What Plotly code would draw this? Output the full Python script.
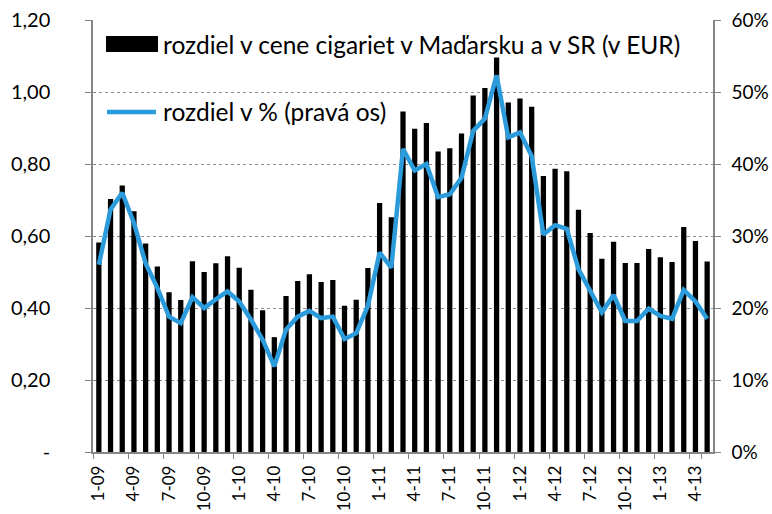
import plotly.graph_objects as go

months = [f"{m}-{y:02d}" for y in range(9, 14) for m in range(1, 13)][:53]

price_diff = [0.582, 0.703, 0.740, 0.669, 0.579, 0.515, 0.444, 0.422, 0.530, 0.500,
              0.524, 0.544, 0.512, 0.451, 0.394, 0.319, 0.433, 0.475, 0.494, 0.472,
              0.478, 0.406, 0.423, 0.511, 0.692, 0.652, 0.946, 0.898, 0.914, 0.835,
              0.844, 0.885, 0.990, 1.011, 1.096, 0.971, 0.982, 0.959, 0.767, 0.787,
              0.780, 0.673, 0.608, 0.537, 0.584, 0.525, 0.525, 0.564, 0.541, 0.528,
              0.625, 0.586, 0.529]

pct_diff = [26.0, 33.7, 36.0, 31.8, 26.2, 22.8, 18.8, 17.9, 21.5, 20.0,
            21.2, 22.3, 20.9, 18.4, 15.6, 11.9, 17.0, 18.8, 19.6, 18.6,
            18.8, 15.7, 16.5, 20.3, 27.7, 25.6, 42.1, 39.1, 40.0, 35.4,
            35.8, 38.1, 44.6, 46.3, 52.3, 43.7, 44.4, 41.1, 30.2, 31.5,
            31.0, 25.4, 22.4, 19.4, 21.8, 18.2, 18.2, 19.9, 18.9, 18.5,
            22.5, 20.9, 18.5]

left_tickvals = [0, 0.2, 0.4, 0.6, 0.8, 1.0, 1.2]
left_ticktext = ["-", "0,20", "0,40", "0,60", "0,80", "1,00", "1,20"]
right_tickvals = [0, 10, 20, 30, 40, 50, 60]
right_ticktext = ["0%", "10%", "20%", "30%", "40%", "50%", "60%"]
x_tickvals = months[::3]

bar_name = "rozdiel v cene cigariet v Maďarsku a v SR (v EUR)"
line_name = "rozdiel v % (pravá os)"

FONT = "Lato"
BLUE = "#2B9BDB"
AXIS = "#868686"

L, R, T, B = 93, 59, 20, 62
PW, PH = 772 - L - R, 514 - T - B

fig = go.Figure()
fig.add_trace(go.Bar(x=months, y=price_diff, name=bar_name, marker_color="black",
                     marker_line_width=0, yaxis="y", showlegend=False))
fig.add_trace(go.Scatter(x=months, y=pct_diff, name=line_name, mode="lines",
                         line=dict(color=BLUE, width=4.5), yaxis="y2", showlegend=False))

fig.update_layout(
    width=772, height=514,
    margin=dict(l=L, r=R, t=T, b=B),
    plot_bgcolor="white", paper_bgcolor="white",
    bargap=0.55,
    font=dict(family=FONT, color="black", size=19),
    xaxis=dict(type="category", tickvals=x_tickvals, tickangle=-90,
               tickson="boundaries", ticks="outside", ticklen=5, tickcolor=AXIS,
               showline=True, linecolor=AXIS, linewidth=1.5, showgrid=False,
               tickfont=dict(size=17), range=[-0.5, 52.5], automargin=False,
               ticklabelstandoff=5),
    yaxis=dict(range=[0, 1.2], tickvals=left_tickvals, ticktext=left_ticktext,
               showline=True, linecolor=AXIS, linewidth=1.5, ticks="outside",
               ticklen=6, tickcolor=AXIS, showgrid=True, gridcolor="#8c8c8c",
               griddash="dot", gridwidth=1, zeroline=False, tickfont=dict(size=20),
               automargin=False, ticklabelstandoff=31),
    yaxis2=dict(range=[0, 60], tickvals=right_tickvals, ticktext=right_ticktext,
                overlaying="y", side="right", showline=True, linecolor=AXIS,
                linewidth=1.5, ticks="outside", ticklen=6, tickcolor=AXIS,
                showgrid=False, zeroline=False, tickfont=dict(size=19),
                automargin=False, ticklabelstandoff=7),
)

# Manual legend (symbols + real text)
fig.add_shape(type="rect", xref="paper", yref="paper",
              x0=(106 - L) / PW, x1=(158 - L) / PW,
              y0=(452 - 52) / PH, y1=(452 - 36) / PH,
              fillcolor="black", line_width=0)
fig.add_shape(type="line", xref="paper", yref="paper",
              x0=(107 - L) / PW, x1=(156 - L) / PW,
              y0=(452 - 112) / PH, y1=(452 - 112) / PH,
              line=dict(color=BLUE, width=4.5))
fig.add_annotation(xref="paper", yref="paper", x=(161 - L) / PW, y=(452 - 44) / PH,
                   text=bar_name, showarrow=False, xanchor="left", yanchor="middle",
                   font=dict(size=24.5, family=FONT))
fig.add_annotation(xref="paper", yref="paper", x=(161 - L) / PW, y=(452 - 112) / PH,
                   text=line_name, showarrow=False, xanchor="left", yanchor="middle",
                   font=dict(size=24.5, family=FONT))

fig.write_html("out.html", config={"displayModeBar": False},
               post_script="document.body.style.margin='0';document.body.style.overflow='hidden';")
